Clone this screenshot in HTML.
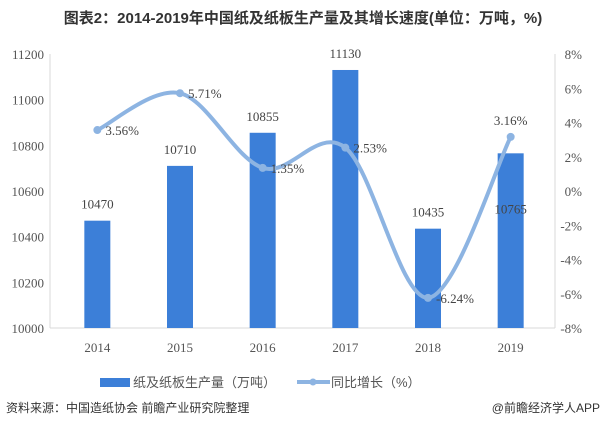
<!DOCTYPE html>
<html><head><meta charset="utf-8"><style>
body{margin:0;background:#fff;width:606px;height:421px;overflow:hidden;font-family:"Liberation Serif","Noto Serif CJK SC",serif}
</style></head><body>
<svg width="606" height="421" xmlns="http://www.w3.org/2000/svg">
<text x="303" y="23" text-anchor="middle" font-size="15" font-weight="bold" fill="#333" font-family="Liberation Sans,Noto Sans CJK SC,sans-serif">图表2：2014-2019年中国纸及纸板生产量及其增长速度(单位：万吨，%)</text>
<g id="axes"></g><g id="bars"></g><g id="line"></g>
<g>
<rect x="100" y="378" width="30" height="9" fill="#3c7fd8"/>
<text x="133" y="387" font-size="13" fill="#555" font-family="Liberation Sans,Noto Sans CJK SC,sans-serif">纸及纸板生产量（万吨）</text>
<line x1="297" y1="382" x2="330" y2="382" stroke="#8db4e2" stroke-width="4"/>
<circle cx="313" cy="382" r="3.5" fill="#8db4e2"/>
<text x="331" y="387" font-size="13" fill="#555" font-family="Liberation Sans,Noto Sans CJK SC,sans-serif">同比增长（%）</text>
</g>
<text x="6" y="412" font-size="12" fill="#333" font-family="Liberation Sans,Noto Sans CJK SC,sans-serif">资料来源：中国造纸协会 前瞻产业研究院整理</text>
<text x="600" y="412" text-anchor="end" font-size="12" fill="#333" font-family="Liberation Sans,Noto Sans CJK SC,sans-serif">@前瞻经济学人APP</text>
</svg>
<script>
const categories=["2014","2015","2016","2017","2018","2019"];
const production=[10470,10710,10855,11130,10435,10765];
const growth=[3.56,5.71,1.35,2.53,-6.24,3.16];
const leftTicks=[10000,10200,10400,10600,10800,11000,11200];
const rightTicks=[-8,-6,-4,-2,0,2,4,6,8];
const NS="http://www.w3.org/2000/svg";
const yTop=54,yBot=328,x0=56,x1=552;
const band=(x1-x0)/categories.length;
const xc=i=>x0+band*(i+0.5);
const yL=v=>yBot-(v-10000)/1200*(yBot-yTop);
const yR=v=>yBot-(v+8)/16*(yBot-yTop);
function mk(tag,attrs,parent,text){const e=document.createElementNS(NS,tag);for(const k in attrs)e.setAttribute(k,attrs[k]);if(text!==undefined)e.textContent=text;parent.appendChild(e);return e;}
const ax=document.getElementById('axes');
let a=mk('line',{x1:50,y1:yTop,x2:50,y2:yBot,stroke:'#d9d9d9'},ax);


a=mk('line',{x1:50,y1:yBot,x2:555,y2:yBot,stroke:'#d9d9d9'},ax);


a=mk('line',{x1:555,y1:yTop,x2:555,y2:yBot,stroke:'#d9d9d9'},ax);


leftTicks.forEach(v=>{const t=mk('text',{x:44,y:yL(v)+5,'text-anchor':'end','font-size':13,fill:'#555'},ax,v);

});
rightTicks.forEach(v=>{const t=mk('text',{x:582,y:yR(v)+5,'text-anchor':'end','font-size':13,fill:'#555'},ax,v+'%');

});
categories.forEach((c,i)=>{const t=mk('text',{x:xc(i),y:352,'text-anchor':'middle','font-size':13,fill:'#555'},ax,c);

});
const bg=document.getElementById('bars');
const lastIdx=categories.length-1;
production.forEach((v,i)=>{const r=mk('rect',{x:xc(i)-13,y:yL(v),width:26,height:yBot-yL(v),fill:'#3c7fd8'},bg);


const ly=i===lastIdx?yL(v)+60:yL(v)-12;
const t=mk('text',{x:xc(i),y:ly,'text-anchor':'middle','font-size':13,fill:'#444'},bg,v);

});
const lg=document.getElementById('line');
const pts=growth.map((v,i)=>[xc(i),yR(v)]);
let d='M'+pts[0][0]+','+pts[0][1];
for(let i=0;i<pts.length-1;i++){const p0=pts[i-1]||pts[i],p1=pts[i],p2=pts[i+1],p3=pts[i+2]||p2;const k=6;
d+=` C${p1[0]+(p2[0]-p0[0])/k},${p1[1]+(p2[1]-p0[1])/k} ${p2[0]-(p3[0]-p1[0])/k},${p2[1]-(p3[1]-p1[1])/k} ${p2[0]},${p2[1]}`;}
const pth=mk('path',{d:d,fill:'none',stroke:'#8db4e2','stroke-width':4},lg);


pts.forEach((p,i)=>{const c=mk('circle',{cx:p[0],cy:p[1],r:4,fill:'#8db4e2'},lg);


const attrs=i===lastIdx?{x:p[0],y:p[1]-12,'text-anchor':'middle','font-size':13,fill:'#444'}:{x:p[0]+8,y:p[1]+5,'font-size':13,fill:'#444'};
const t=mk('text',attrs,lg,growth[i].toFixed(2)+'%');

});
</script>
</body></html>
